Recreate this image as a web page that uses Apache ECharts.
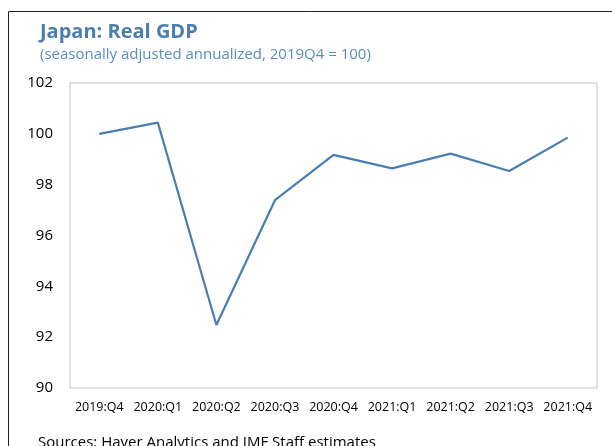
<!DOCTYPE html>
<html lang="en">
<head>
    <meta charset="UTF-8">
    <title>Japan: Real GDP</title>
    <script src="https://cdn.jsdelivr.net/npm/echarts@6.0.0/dist/echarts.min.js"></script>
    <style>
        html, body { margin: 0; padding: 0; background: #fff; }
        #chart { width: 612px; height: 446px; }
    </style>
</head>
<body>
<div id="chart"></div>
<script>
    // quarters on the x axis
    var quarters = ['2019:Q4', '2020:Q1', '2020:Q2', '2020:Q3', '2020:Q4',
                    '2021:Q1', '2021:Q2', '2021:Q3', '2021:Q4'];
    // real GDP index, 2019Q4 = 100
    var gdp = [100.0, 100.44, 92.48, 97.39, 99.17, 98.64, 99.22, 98.54, 99.85];

    var yMin = 90, yMax = 102, yStep = 2;

    var fontFam = '"Open Sans", "Noto Sans", sans-serif';
    var myChart = echarts.init(document.getElementById('chart'));

    var option = {
        backgroundColor: '#fff',
        animation: false,
        textStyle: { fontFamily: fontFam },
        title: {
            text: 'Japan: Real GDP',
            subtext: '(seasonally adjusted annualized, 2019Q4 = 100)',
            left: 35,
            top: 17,
            itemGap: 5,
            textStyle: { fontSize: 20, fontWeight: 'bold', color: '#4a7eb0', fontFamily: fontFam },
            subtextStyle: { fontSize: 15, color: '#5b8cbf', fontFamily: fontFam }
        },
        grid: {
            left: 70, right: 15, top: 83, bottom: 58,
            show: true,
            borderColor: '#c4c4c4',
            borderWidth: 1
        },
        xAxis: {
            type: 'category',
            data: quarters,
            boundaryGap: true,
            axisLine: { show: false },
            axisTick: { show: false },
            axisLabel: { color: '#000', fontSize: 12.5, margin: 13, interval: 0 }
        },
        yAxis: {
            type: 'value',
            min: yMin, max: yMax, interval: yStep,
            axisLine: { show: false },
            axisTick: { show: false },
            splitLine: { show: false },
            axisLabel: { color: '#000', fontSize: 15, margin: 17 }
        },
        series: [{
            type: 'line',
            data: gdp,
            symbol: 'none',
            lineStyle: { color: '#4a7eb0', width: 2.2 }
        }],
        graphic: [
            { type: 'line', shape: { x1: 8.5, y1: 11.5, x2: 612, y2: 11.5 }, style: { stroke: '#222', lineWidth: 1 } },
            { type: 'line', shape: { x1: 8.5, y1: 11.5, x2: 8.5, y2: 446 }, style: { stroke: '#222', lineWidth: 1 } },
            { type: 'text', left: 38, top: 435,
              style: { text: 'Sources: Haver Analytics and IMF Staff estimates', fill: '#000', fontSize: 15, fontFamily: fontFam } }
        ]
    };
    myChart.setOption(option);
</script>
</body>
</html>
